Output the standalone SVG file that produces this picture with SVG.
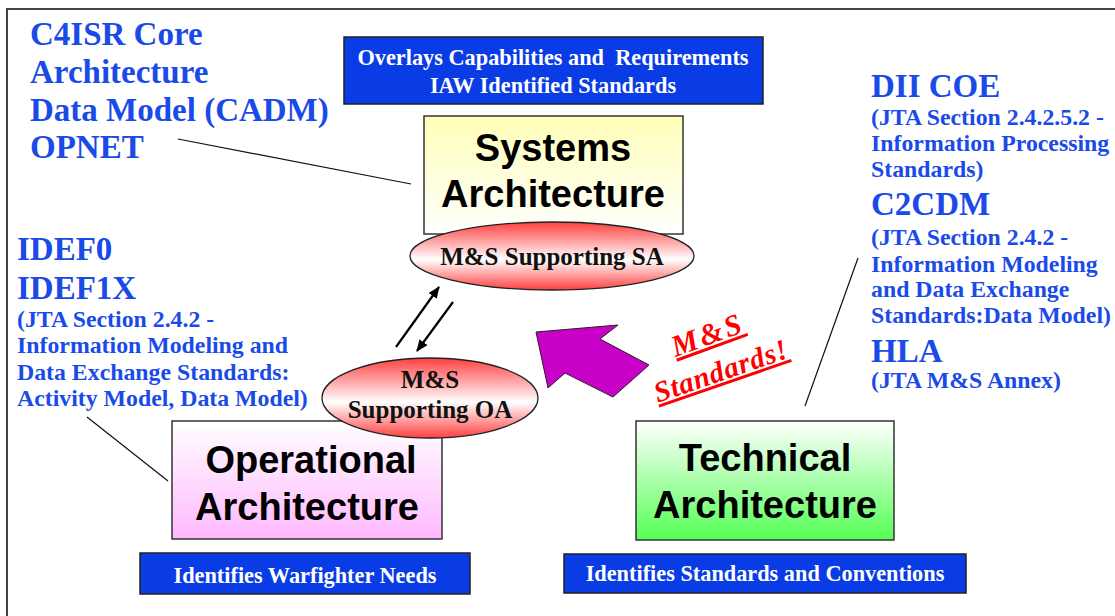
<svg xmlns="http://www.w3.org/2000/svg" width="1115" height="616" viewBox="0 0 1115 616">
<style>
.frame{fill:none;stroke:#444;stroke-width:2}
.box{stroke:#333;stroke-width:1.5}
.blue{fill:#0A3CE6;stroke:#222;stroke-width:1.5}
.bt{font-family:"Liberation Serif",serif;font-weight:bold;font-size:22.3px;fill:#fff;text-anchor:middle;white-space:pre}
.title{font-family:"Liberation Sans",Arial,sans-serif;font-weight:bold;font-size:38px;fill:#000;text-anchor:middle}
.ell{stroke:#222;stroke-width:1.3}
.et{font-family:"Liberation Serif",serif;font-weight:bold;font-size:25px;fill:#111;text-anchor:middle}
.big{font-family:"Liberation Serif",serif;font-weight:bold;font-size:33px;fill:#1A4BE8}
.small{font-family:"Liberation Serif",serif;font-weight:bold;font-size:23.8px;fill:#1A4BE8}
.lead{stroke:#111;stroke-width:1.2;fill:none}
.arr{stroke:#000;stroke-width:2.2;fill:none}
.red{font-family:"Liberation Serif",serif;font-weight:bold;font-style:italic;fill:#FF0000;text-anchor:middle;text-decoration:underline}
</style>
<defs>
<linearGradient id="gSys" x1="0" y1="0" x2="0" y2="1"><stop offset="0" stop-color="#FFFFB8"/><stop offset="1" stop-color="#FFFFFF"/></linearGradient>
<linearGradient id="gOp" x1="0" y1="0" x2="0" y2="1"><stop offset="0" stop-color="#FFFFFF"/><stop offset="1" stop-color="#FFB8FF"/></linearGradient>
<linearGradient id="gTech" x1="0" y1="0" x2="0" y2="1"><stop offset="0" stop-color="#FFFFFF"/><stop offset="1" stop-color="#55FF55"/></linearGradient>
<linearGradient id="gEll" x1="0" y1="0" x2="0" y2="1"><stop offset="0" stop-color="#FF4040"/><stop offset="0.55" stop-color="#FFFFFF"/><stop offset="1" stop-color="#FF4040"/></linearGradient>
<marker id="ah" viewBox="0 0 12 10" refX="11" refY="5" markerWidth="12" markerHeight="10" markerUnits="userSpaceOnUse" orient="auto">
<path d="M0,0 L12,5 L0,10 Z" fill="#000"/>
</marker>
</defs>
<rect width="1115" height="616" fill="#fff"/>
<rect class="frame" x="7" y="9" width="1130" height="630"/>

<g id="connectors">
<line class="lead" x1="178" y1="139" x2="411" y2="184"/>
<line class="lead" x1="87" y1="417" x2="168" y2="481"/>
<line class="lead" x1="858" y1="258" x2="805" y2="406"/>
<line class="arr" x1="396" y1="347" x2="439" y2="287" marker-end="url(#ah)"/>
<line class="arr" x1="453" y1="302" x2="417" y2="351" marker-end="url(#ah)"/>
</g>

<g id="overlays-box">
<rect class="blue" x="344" y="37" width="419" height="67"/>
<text class="bt" x="553" y="65" xml:space="preserve">Overlays Capabilities and  Requirements</text>
<text class="bt" x="553" y="93">IAW Identified Standards</text>
</g>

<g id="systems-architecture">
<rect class="box" x="424" y="116" width="259" height="118" fill="url(#gSys)"/>
<text class="title" x="553" y="161">Systems</text>
<text class="title" x="553" y="207">Architecture</text>
</g>

<g id="ms-supporting-sa">
<ellipse class="ell" cx="552" cy="256" rx="142" ry="34" fill="url(#gEll)"/>
<text class="et" x="552" y="265">M&amp;S Supporting SA</text>
</g>

<g id="operational-architecture">
<rect class="box" x="172" y="421" width="270" height="118" fill="url(#gOp)"/>
<text class="title" x="311" y="473">Operational</text>
<text class="title" x="307" y="520">Architecture</text>
</g>

<g id="ms-supporting-oa">
<ellipse class="ell" cx="430" cy="398" rx="108" ry="40" fill="url(#gEll)"/>
<text class="et" x="430" y="388">M&amp;S</text>
<text class="et" x="430" y="418">Supporting OA</text>
</g>

<g id="technical-architecture">
<rect class="box" x="636" y="421" width="258" height="119" fill="url(#gTech)"/>
<text class="title" x="765" y="471">Technical</text>
<text class="title" x="765" y="518">Architecture</text>
</g>

<g id="warfighter-box">
<rect class="blue" x="140" y="553" width="330" height="41"/>
<text class="bt" x="305" y="583">Identifies Warfighter Needs</text>
</g>

<g id="standards-box">
<rect class="blue" x="564" y="554" width="402" height="39"/>
<text class="bt" x="765" y="581">Identifies Standards and Conventions</text>
</g>

<g id="ms-standards-arrow">
<polygon points="536,332 618,325 600,339 649,365 613,397 565,373 548,388" fill="#C800C8" stroke="#222" stroke-width="1"/>
</g>

<g id="ms-standards-label">
<text class="red" font-size="30" letter-spacing="3" transform="translate(711,344) rotate(-20)">M&amp;S</text>
<text class="red" font-size="29" letter-spacing="0.8" transform="translate(724,380) rotate(-19)">Standards!</text>
</g>

<g id="cadm-text">
<text class="big" x="30" y="45">C4ISR Core</text>
<text class="big" x="30" y="83">Architecture</text>
<text class="big" x="30" y="121">Data Model (CADM)</text>
<text class="big" x="30" y="158">OPNET</text>
</g>

<g id="idef-text">
<text class="big" x="17" y="260">IDEF0</text>
<text class="big" x="17" y="299">IDEF1X</text>
<text class="small" x="17" y="327">(JTA Section 2.4.2 -</text>
<text class="small" x="17" y="353">Information Modeling and</text>
<text class="small" x="17" y="380">Data Exchange Standards:</text>
<text class="small" x="17" y="406">Activity Model, Data Model)</text>
</g>

<g id="dii-text">
<text class="big" x="871" y="97">DII COE</text>
<text class="small" x="871" y="125">(JTA Section 2.4.2.5.2 -</text>
<text class="small" x="871" y="151">Information Processing</text>
<text class="small" x="871" y="177">Standards)</text>
<text class="big" x="871" y="215">C2CDM</text>
<text class="small" x="871" y="245">(JTA Section 2.4.2 -</text>
<text class="small" x="871" y="272">Information Modeling</text>
<text class="small" x="871" y="297">and Data Exchange</text>
<text class="small" x="871" y="323">Standards:Data Model)</text>
<text class="big" x="871" y="362">HLA</text>
<text class="small" x="871" y="388">(JTA M&amp;S Annex)</text>
</g>
</svg>
